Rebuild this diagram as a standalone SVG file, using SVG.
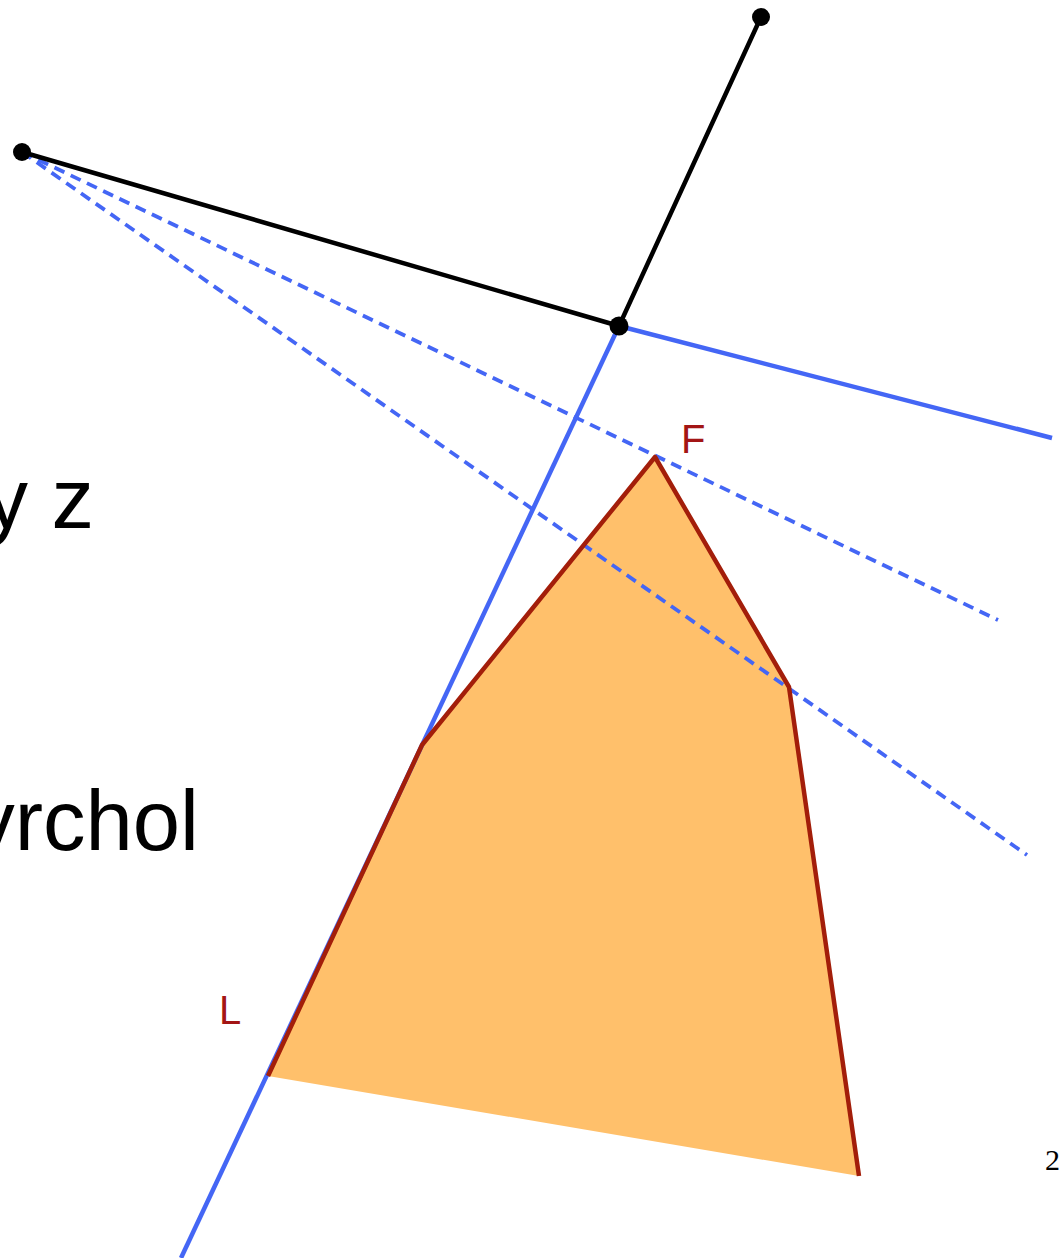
<svg xmlns="http://www.w3.org/2000/svg" width="1060" height="1258" viewBox="0 0 1060 1258">
<style>
.blk{stroke:#000;stroke-width:4.5;fill:none;stroke-linecap:round}
.blu{stroke:#4466F5;stroke-width:4.5;fill:none}
.dash{stroke:#4466F5;stroke-width:3.8;fill:none;stroke-dasharray:11 7}
.edge{stroke:#A31E0A;stroke-width:4.5;fill:none;stroke-linejoin:round}
.pt{fill:#000}
.lbl{font-family:"Liberation Sans",Arial,sans-serif;font-size:40px;fill:#A31515}
.big{font-family:"Liberation Sans",Arial,sans-serif;font-size:85px;fill:#000}
</style>
<rect width="1060" height="1258" fill="#fff"/>
<g id="text-yz"><text class="big" x="94" y="528" text-anchor="end">y z</text></g>
<g id="text-yrchol"><text class="big" x="199" y="850" text-anchor="end">yrchol</text></g>
<g id="page-num"><text x="1045" y="1170" font-family="Liberation Serif,serif" font-size="30">2</text></g>
<g id="polygon">
<polygon points="268,1076 422,745 655,457 789,687 859,1176" fill="#FFC06B" stroke="none"/>
</g>
<g id="connectors">
<line class="blu" x1="619" y1="326" x2="1052" y2="438"/>
<line class="blu" x1="619" y1="326" x2="181" y2="1258"/>
<line class="dash" x1="22" y1="152" x2="998" y2="620"/>
<line class="dash" x1="22" y1="152" x2="1027" y2="855"/>
<line class="blk" x1="22" y1="152" x2="619" y2="326"/>
<line class="blk" x1="619" y1="326" x2="761" y2="17"/>
<polyline class="edge" points="268,1076 422,745 655,457 789,687 859,1176"/>
</g>
<g id="point-top"><circle class="pt" cx="761" cy="17" r="9"/></g>
<g id="point-left"><circle class="pt" cx="22" cy="152" r="9"/></g>
<g id="point-mid"><circle class="pt" cx="619" cy="326" r="9.5"/></g>
<g id="label-F"><text class="lbl" x="681" y="453">F</text></g>
<g id="label-L"><text class="lbl" x="219" y="1024">L</text></g>
</svg>
